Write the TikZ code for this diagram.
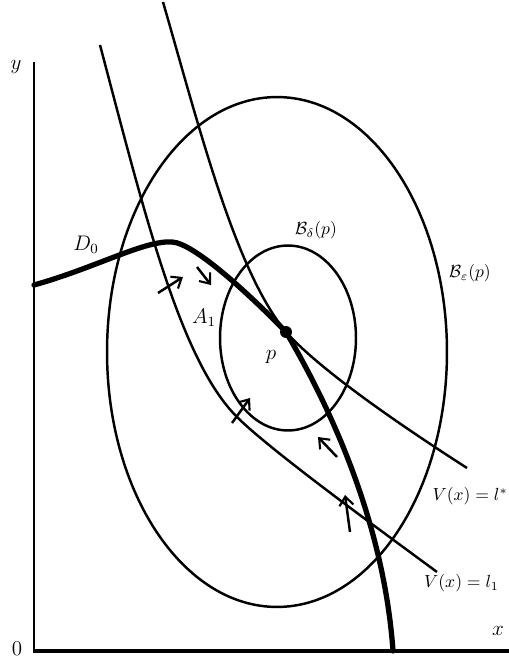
\documentclass[tikz,border=0pt]{standalone}
\usepackage{amsmath, amssymb}
\usepackage{tikz}
\usetikzlibrary{arrows.meta}

\begin{document}
\begin{tikzpicture}[x=0.02cm, y=-0.02cm,
    thinline/.style={line width=1.4pt},
    flow/.style={line width=1.4pt, -{Straight Barb[length=5pt,width=8pt,line width=1.2pt]}},
    lbl/.style={inner sep=0pt, font=\large}]
        \useasboundingbox (0,0) rectangle (509,665);

        % The axes
        \draw[line width=1.2pt] (34,62) -- (34,651);
        \draw[line width=2pt] (33,651) -- (509,651);
        \node[lbl] (ylab) at (16,67) {$y$};
        \node[lbl] (zero) at (17,649) {$0$};
        \node[lbl] (xlab) at (498,631) {$x$};

        % The two balls
        \draw[thinline] (277,352) ellipse [x radius=3.4cm, y radius=5.1cm];
        \draw[thinline] (288,338) ellipse [x radius=1.36cm, y radius=1.85cm];

        % The level sets
        \draw[thinline] (100,45) .. controls (145,215) and (180,360) .. (237,417)
            .. controls (270,450) and (380,530) .. (437,572);
        \draw[thinline] (163,2) .. controls (200,130) and (235,270) .. (286,332)
            .. controls (320,370) and (400,425) .. (467,468);

        % The set D_0
        \draw[line width=3pt, line cap=round] (34,285) .. controls (95,268) and (145,240) .. (172,242)
            .. controls (195,243) and (255,300) .. (286,332)
            .. controls (320,390) and (383,510) .. (393,651);
        \fill (286,332) circle [radius=0.12cm];

        % Flow arrows
        \draw[flow] (158,293) -- (183,277);
        \draw[flow] (197,267) -- (211,285);
        \draw[flow] (232,423) -- (250,398);
        \draw[flow] (337,457) -- (318,437);
        \draw[flow] (350,532) -- (345,495);

        % Labels
        \node[lbl] (dzero) at (86,245) {$D_0$};
        \node[lbl] (aone) at (204,318) {$A_1$};
        \node[lbl] (pt) at (271,357) {$p$};
        \node[lbl, font=\normalsize] (bdelta) at (316,230) {$\mathcal{B}_\delta(p)$};
        \node[lbl, font=\normalsize] (beps) at (470,273) {$\mathcal{B}_\varepsilon(p)$};
        \node[lbl, font=\normalsize, anchor=east] (vstar) at (508,496) {$V(x) = l^*$};
        \node[lbl, font=\normalsize, anchor=east] (vone) at (499,583) {$V(x) = l_1$};
\end{tikzpicture}
\end{document}
